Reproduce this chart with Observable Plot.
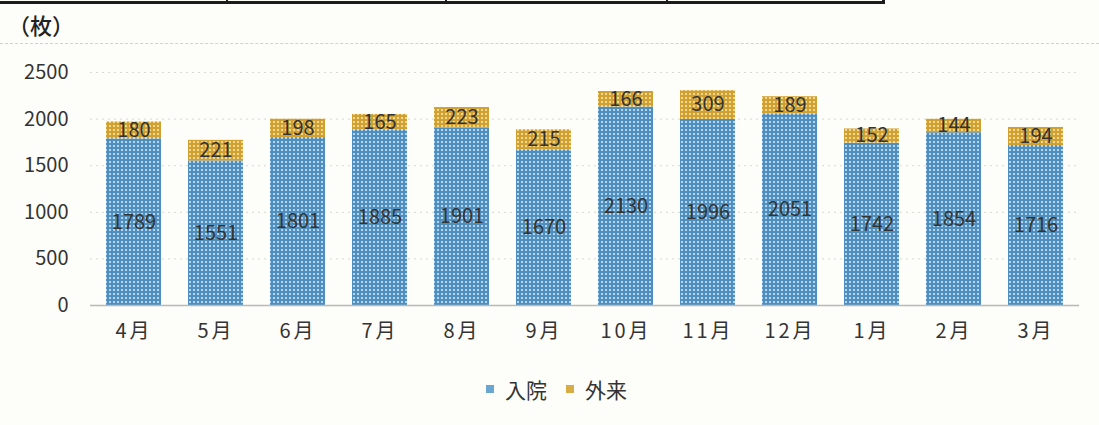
<!DOCTYPE html>
<html>
<head>
<meta charset="utf-8">
<script src="https://cdn.jsdelivr.net/npm/d3@7"></script>
<script src="https://cdn.jsdelivr.net/npm/@observablehq/plot@0.6"></script>
<style>
  html, body { margin: 0; padding: 0; background: #fdfdf9; }
  body { width: 1099px; height: 425px; position: relative; overflow: hidden;
         font-family: "Noto Sans CJK JP", "Noto Sans", sans-serif; color: #333; }
  #frame { position: absolute; left: -3px; top: -18px; width: 888px; height: 22px;
           border: 3px solid #1c1c1c; box-sizing: border-box; }
  #frame div { position: absolute; top: 0; bottom: 0; width: 2px; background: #1c1c1c; }
  #unit { position: absolute; left: 8px; top: 8px; font-size: 22px; color: #222; font-weight: 500; }
  #border { position: absolute; left: 0; right: 0; top: 43px; border-top: 1px dashed #d2d2cc; }
  #chart { position: absolute; left: 0; top: 0; }
  #legend { position: absolute; top: 374px; left: 486px; font-size: 21px; color: #333;
            display: flex; align-items: center; }
  #legend .sw { width: 8px; height: 8px; display: inline-block; margin-right: 11px; }
  #legend .item { display: flex; align-items: center; margin-right: 19px; }
</style>
</head>
<body>
<div id="frame"><div style="left:226px"></div><div style="left:445px"></div><div style="left:666px"></div></div>
<div id="border"></div>
<div id="unit">（枚）</div>
<div id="chart"></div>
<div id="legend">
  <span class="item"><span class="sw" style="background:#6aa6d2"></span>入院</span>
  <span class="item"><span class="sw" style="background:#d9ad45"></span>外来</span>
</div>
<script>
// Monthly counts, April through March
const months = ["4月", "5月", "6月", "7月", "8月", "9月", "10月", "11月", "12月", "1月", "2月", "3月"];
const inpatient = [1789, 1551, 1801, 1885, 1901, 1670, 2130, 1996, 2051, 1742, 1854, 1716];
const outpatient = [180, 221, 198, 165, 223, 215, 166, 309, 189, 152, 144, 194];
const seriesNames = ["入院", "外来"];
const yTicks = [0, 500, 1000, 1500, 2000, 2500];

const rows = [];
months.forEach((m, i) => {
  rows.push({month: m, series: seriesNames[0], value: inpatient[i]});
  rows.push({month: m, series: seriesNames[1], value: outpatient[i]});
});

const chart = Plot.plot({
  width: 1099,
  height: 350,
  marginLeft: 90,
  marginRight: 20,
  marginTop: 72,
  marginBottom: 45,
  style: {background: "transparent", fontFamily: "'Noto Sans CJK JP', sans-serif", fontSize: "20px", color: "#333"},
  x: {domain: months, paddingInner: 0.33, paddingOuter: 0.165, label: null, tickSize: 0, tickPadding: 18},
  y: {domain: [0, 2500], ticks: yTicks, tickFormat: d => String(d), label: null, tickSize: 0, tickPadding: 22},
  color: {domain: seriesNames, range: ["url(#dotBlue)", "url(#dotGold)"]},
  marks: [
    Plot.ruleY(yTicks.slice(1), {stroke: "#d8d8d2", strokeDasharray: "2,4"}),
    Plot.barY(rows, {x: "month", y: "value", fill: "series", order: seriesNames}),
    Plot.ruleY([0], {stroke: "#b9b9b9", strokeWidth: 1.5}),
    Plot.text(rows, Plot.stackY({x: "month", y: "value", z: "series", order: seriesNames,
      text: d => String(d.value), fill: "#333", fontSize: 20}))
  ]
});

// Dotted screen fills for the two series
const ns = "http://www.w3.org/2000/svg";
const defs = document.createElementNS(ns, "defs");
defs.innerHTML = `
  <pattern id="dotBlue" width="4" height="4" patternUnits="userSpaceOnUse">
    <rect width="4" height="4" fill="#4e8fc0"/>
    <rect x="1" y="1" width="2" height="2" fill="#b4d5ec"/>
  </pattern>
  <pattern id="dotGold" width="4" height="4" patternUnits="userSpaceOnUse">
    <rect width="4" height="4" fill="#d0a030"/>
    <rect x="1" y="1" width="2" height="2" fill="#f0d890"/>
  </pattern>`;
chart.insertBefore(defs, chart.firstChild);

chart.querySelectorAll("[aria-label='x-axis tick label'] text").forEach(t => t.setAttribute("letter-spacing", "3"));
document.getElementById("chart").appendChild(chart);
</script>
</body>
</html>
